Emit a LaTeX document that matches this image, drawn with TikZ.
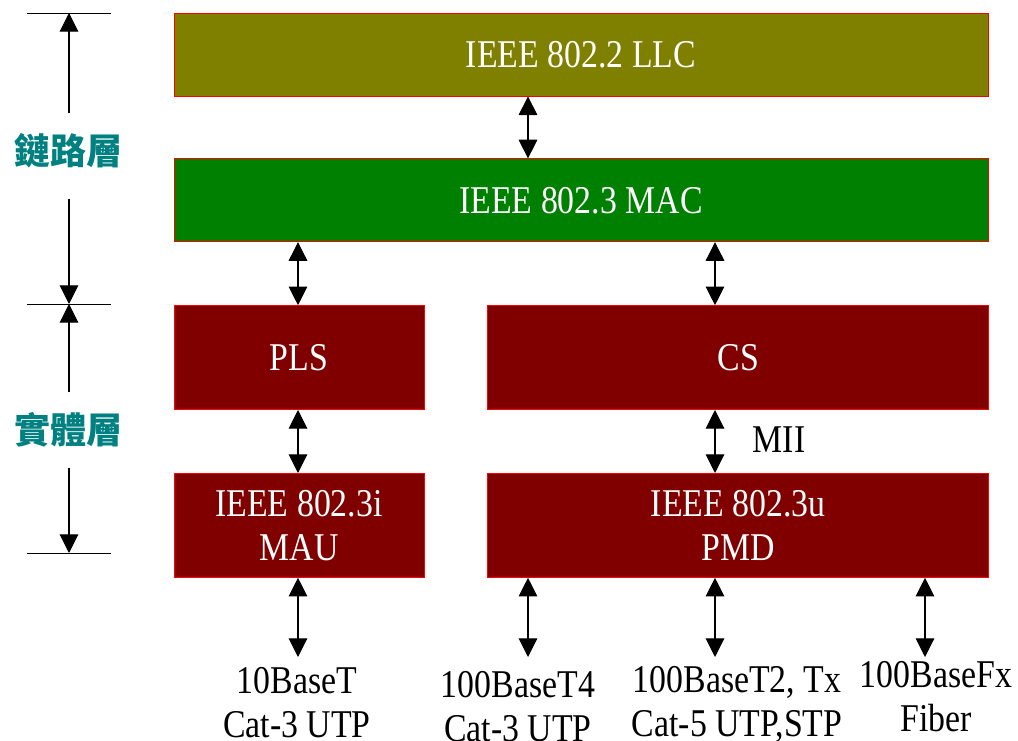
\documentclass[tikz,border=0pt]{standalone}
\usepackage{fontspec}
\setmainfont{Liberation Serif}[FakeStretch=0.86]
\newfontfamily\cjk{Noto Sans CJK TC}
\usetikzlibrary{positioning,calc,arrows.meta}
\definecolor{llcolive}{RGB}{128,128,0}
\definecolor{macgreen}{RGB}{0,128,0}
\definecolor{physred}{RGB}{128,0,0}
\definecolor{layerteal}{RGB}{0,128,128}
\tikzset{
    box/.style={draw=red, line width=0.6pt, text=white, align=center, inner sep=0pt,
      font=\fontsize{29.5pt}{33pt}\selectfont},
    fullbox/.style={box, minimum width=610.5pt, minimum height=62.25pt},
    halfbox/.style={box, fill=physred, minimum width=187.5pt, minimum height=78pt},
    widebox/.style={box, fill=physred, minimum width=375.75pt, minimum height=78pt},
    medium/.style={align=center, inner sep=0pt, anchor=north,
      font=\fontsize{29.5pt}{33pt}\selectfont},
    layer/.style={text=layerteal, inner xsep=0pt, inner ysep=15pt,
      font=\cjk\bfseries\fontsize{27pt}{27pt}\selectfont},
    biarrow/.style={{Triangle[length=14pt,width=14pt]}-{Triangle[length=14pt,width=14pt]}, line width=0.8pt},
    onearrow/.style={-{Triangle[length=14pt,width=14pt]}, line width=0.8pt},
    tick/.style={line width=0.6pt}
}
\begin{document}
\begin{tikzpicture}[x=0.75pt, y=-0.75pt]
      \useasboundingbox (0,0) rectangle (1018,741);
      \node[fullbox, fill=llcolive] (llc) at (581,54.5) {IEEE 802.2 LLC};
      \node[fullbox, fill=macgreen, below = 46.5pt of llc] (mac) {IEEE 802.3 MAC};
      \node[halfbox, below = 47.25pt of mac.south west, anchor = north west] (pls) {PLS};
      \node[widebox, right = 47.25pt of pls] (cs) {CS};
      \node[halfbox, below = 47.25pt of pls] (mau) {IEEE 802.3i\\MAU};
      \node[widebox, below = 47.25pt of cs] (pmd) {IEEE 802.3u\\PMD};
      \node[medium, anchor = center] (mii) at (779,440) {MII};

      \coordinate (ax1) at (528,0);
      \coordinate (ax2) at (298,0);
      \coordinate (ax3) at (715,0);
      \coordinate (ax4) at (925,0);
      \coordinate (bot) at (0,657);

      \draw[biarrow] (llc.south -| ax1) -- (mac.north -| ax1);
      \draw[biarrow] (mac.south -| ax2) -- (pls.north -| ax2);
      \draw[biarrow] (mac.south -| ax3) -- (cs.north -| ax3);
      \draw[biarrow] (pls.south -| ax2) -- (mau.north -| ax2);
      \draw[biarrow] (cs.south -| ax3) -- (pmd.north -| ax3);
      \draw[biarrow] (mau.south -| ax2) -- (ax2 |- bot);
      \draw[biarrow] (pmd.south -| ax1) -- (ax1 |- bot);
      \draw[biarrow] (pmd.south -| ax3) -- (ax3 |- bot);
      \draw[biarrow] (pmd.south -| ax4) -- (ax4 |- bot);

      \node[medium] (tenT) at (297,667) {10BaseT\\Cat-3 UTP};
      \node[medium] (tfour) at (518,671) {100BaseT4\\Cat-3 UTP};
      \node[medium] (ttwo) at (737,666) {100BaseT2, Tx\\Cat-5 UTP,STP};
      \node[medium] (fx) at (936,661) {100BaseFx\\Fiber};

      \node[layer] (link) at (69,151) {鏈路層};
      \node[layer] (phys) at (69,430) {實體層};
      \coordinate (ltop) at (69,13);
      \coordinate (lmid) at (69,304);
      \coordinate (lbot) at (69,553);
      \foreach \c in {ltop,lmid,lbot}
        \draw[tick] ($(\c)+(-42,0)$) -- ($(\c)+(42,0)$);
      \draw[onearrow] (link) -- (ltop);
      \draw[onearrow, shorten <= 7.5pt] (link) -- (lmid);
      \draw[onearrow] (phys) -- (lmid);
      \draw[onearrow] (phys) -- (lbot);
\end{tikzpicture}
\end{document}
